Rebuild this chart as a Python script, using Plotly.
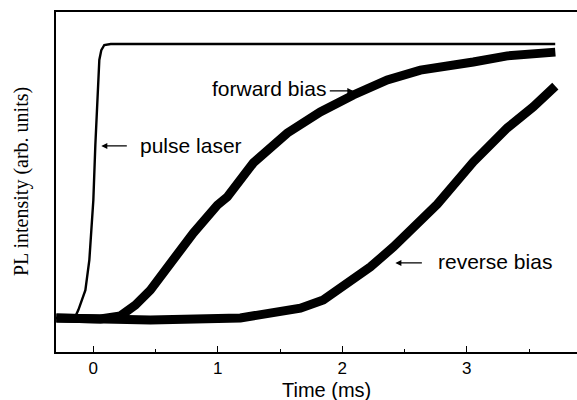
import plotly.graph_objects as go

# Time (ms) and PL intensity (arb. units, 0..1 scale)
pulse_t = [-0.30, -0.20, -0.15, -0.12, -0.064, -0.032, -0.008, 0.0, 0.016, 0.048, 0.064, 0.088, 0.14, 0.6, 1.2, 2.0, 2.8, 3.71]
pulse_i = [0.100, 0.100, 0.100, 0.124, 0.182, 0.271, 0.388, 0.447, 0.609, 0.859, 0.888, 0.903, 0.906, 0.906, 0.906, 0.906, 0.906, 0.906]

fwd_t = [-0.297, 0.056, 0.217, 0.337, 0.458, 0.618, 0.803, 0.996, 1.076, 1.285, 1.558, 1.823, 2.088, 2.361, 2.627, 3.052, 3.325, 3.711]
fwd_i = [0.100, 0.097, 0.106, 0.138, 0.182, 0.259, 0.350, 0.432, 0.456, 0.556, 0.644, 0.706, 0.756, 0.800, 0.829, 0.853, 0.871, 0.882]

rev_t = [-0.297, 0.458, 1.181, 1.341, 1.502, 1.663, 1.847, 2.040, 2.225, 2.410, 2.570, 2.763, 3.052, 3.325, 3.534, 3.711]
rev_i = [0.100, 0.094, 0.100, 0.109, 0.121, 0.129, 0.153, 0.203, 0.250, 0.309, 0.368, 0.435, 0.559, 0.659, 0.721, 0.782]

x_ticks = [0, 1, 2, 3]
x_tick_labels = ["0", "1", "2", "3"]

SANS = "Liberation Sans, Arial, sans-serif"
SERIF = "Liberation Serif, Times New Roman, serif"

fig = go.Figure()
fig.add_trace(go.Scatter(x=fwd_t, y=fwd_i, mode="lines", line=dict(color="black", width=9), showlegend=False))
fig.add_trace(go.Scatter(x=rev_t, y=rev_i, mode="lines", line=dict(color="black", width=9), showlegend=False))
fig.add_trace(go.Scatter(x=pulse_t, y=pulse_i, mode="lines", line=dict(color="black", width=2.4), showlegend=False))

# arrows (tip at data point, tail offset in pixels)
arrow = dict(showarrow=True, arrowhead=2, arrowsize=1, arrowwidth=1.2, arrowcolor="black", text="", ay=0)
fig.add_annotation(x=0.064, y=0.606, ax=27, **arrow)
fig.add_annotation(x=2.088, y=0.768, ax=-25, **arrow)
fig.add_annotation(x=2.426, y=0.262, ax=28, **arrow)

txt = dict(showarrow=False, font=dict(family=SANS, size=21, color="black"), yanchor="middle")
fig.add_annotation(x=0.361, y=0.606, text="pulse laser", xanchor="left", **txt)
fig.add_annotation(x=1.888, y=0.774, text="forward bias", xanchor="right", **txt)
fig.add_annotation(x=2.755, y=0.265, text="reverse bias", xanchor="left", **txt)

# axis titles
fig.add_annotation(xref="paper", yref="paper", x=0.52, y=-0.147, text="Time (ms)", showarrow=False, borderpad=0,
                   xanchor="center", yanchor="bottom", font=dict(family=SANS, size=20, color="black"))
fig.add_annotation(xref="paper", yref="paper", x=-0.067, y=0.5, text="PL intensity (arb. units)", showarrow=False,
                   textangle=-90, xanchor="center", yanchor="middle", font=dict(family=SERIF, size=20, color="black"))

fig.update_layout(
    width=577, height=400,
    margin=dict(l=56, r=0, t=12, b=48),
    paper_bgcolor="white", plot_bgcolor="white",
    xaxis=dict(range=[-0.3, 3.885], tickvals=x_ticks, ticktext=x_tick_labels, ticks="inside", ticklen=6,
               tickwidth=1.2, tickcolor="black", showline=True, linecolor="black", linewidth=1.5, mirror=True,
               showgrid=False, zeroline=False, tickfont=dict(family=SANS, size=17, color="black"),
               minor=dict(tickvals=[0.5, 1.5, 2.5, 3.5], ticks="inside", ticklen=3, tickcolor="black", showgrid=False)),
    yaxis=dict(range=[0, 1], showticklabels=False, ticks="", showline=True, linecolor="black", linewidth=1.5,
               showgrid=False, zeroline=False),
)

fig.write_html("out.html")
